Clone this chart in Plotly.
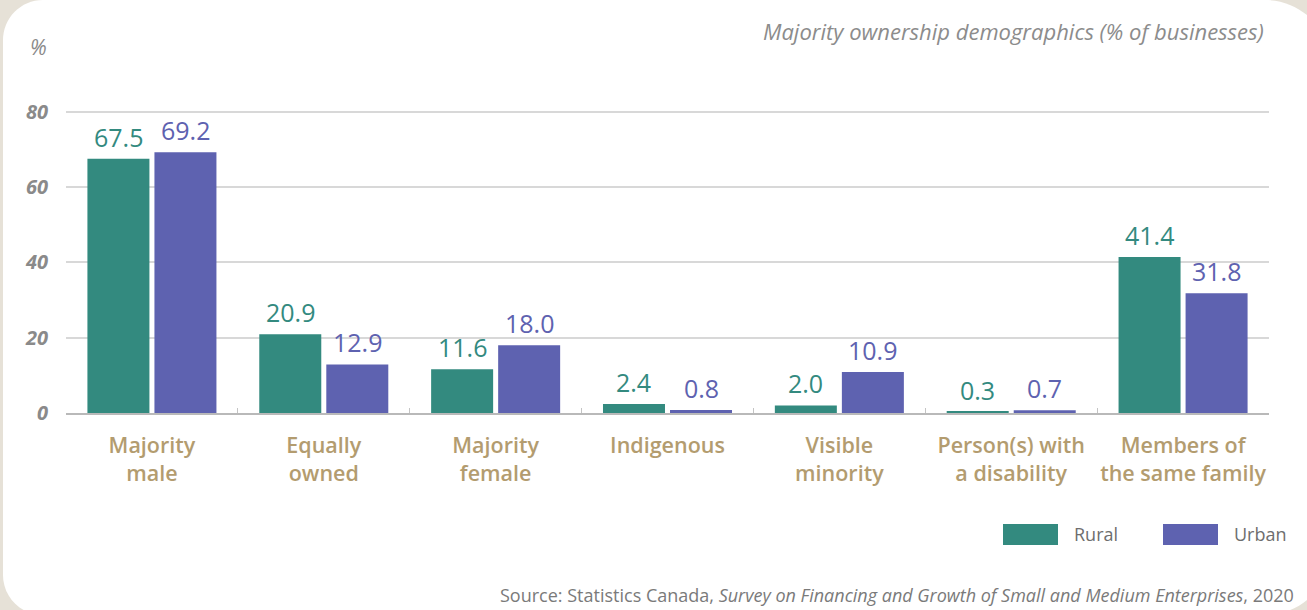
import plotly.graph_objects as go

# --- data -------------------------------------------------------------
categories = [
    "Majority<br>male",
    "Equally<br>owned",
    "Majority<br>female",
    "Indigenous",
    "Visible<br>minority",
    "Person(s) with<br>a disability",
    "Members of<br>the same family",
]
series_names = ["Rural", "Urban"]
rural = [67.5, 20.9, 11.6, 2.4, 2.0, 0.3, 41.4]
urban = [69.2, 12.9, 18.0, 0.8, 10.9, 0.7, 31.8]
y_ticks = [0, 20, 40, 60, 80]

# --- styling ----------------------------------------------------------
W, H = 1307, 610
M_L, M_R, M_T, M_B = 66, 38, 74, 197
RURAL_C = "#338a7f"
URBAN_C = "#5e62b0"
BEIGE = "#e6e1d7"
GREY = "#8a8a8a"
TAN = "#b39c6f"
FONT = "Open Sans"

PW = W - M_L - M_R
PH = H - M_T - M_B


def px(x):
    return (x - M_L) / PW


def py(y):
    return (H - M_B - y) / PH


fig = go.Figure()
for name, vals, col in [(series_names[0], rural, RURAL_C), (series_names[1], urban, URBAN_C)]:
    fig.add_trace(go.Bar(x=categories, y=vals, name=name, marker_color=col,
                         marker_line_width=0, showlegend=False))

# value labels above each bar
slot = PW / len(categories)
offset = slot * (1 - 0.22) / 4
annotations = []
for vals, col, sign in [(rural, RURAL_C, -1), (urban, URBAN_C, 1)]:
    for c, v in zip(categories, vals):
        annotations.append(dict(x=c, y=v, xref="x", yref="y", text=f"{v:.1f}",
                                showarrow=False, yanchor="bottom", xshift=sign * offset,
                                yshift=3, font=dict(family=FONT, size=25, color=col)))

# headline, unit, source
annotations += [
    dict(x=px(1266), y=py(31), xref="paper", yref="paper", xanchor="right", yanchor="middle",
         text="<i>Majority ownership demographics (% of businesses)</i>", showarrow=False,
         font=dict(family=FONT, size=22, color="#8c8c8c")),
    dict(x=px(38), y=py(47), xref="paper", yref="paper", xanchor="center", yanchor="middle",
         text="<i>%</i>", showarrow=False, font=dict(family=FONT, size=21, color=GREY)),
    dict(x=px(1296), y=py(595), xref="paper", yref="paper", xanchor="right", yanchor="middle",
         text="Source: Statistics Canada, <i>Survey on Financing and Growth of Small and Medium Enterprises</i>, 2020",
         showarrow=False, font=dict(family=FONT, size=18, color="#7a7a7a")),
]

# legend swatches
shapes = []
for name, col, x0 in [(series_names[0], RURAL_C, 1003), (series_names[1], URBAN_C, 1163)]:
    shapes.append(dict(type="rect", xref="paper", yref="paper", x0=px(x0), x1=px(x0 + 55),
                       y0=py(545), y1=py(524), fillcolor=col, line_width=0, layer="above"))
    annotations.append(dict(x=px(x0 + 69), y=py(534), xref="paper", yref="paper",
                            xanchor="left", yanchor="middle", text=name, showarrow=False,
                            font=dict(family=FONT, size=18, color="#6e6e6e")))

# white rounded card behind the chart
k = 0.5523
L, R, T, B = 3, 1331, 0, 615
rl, rr = 40, 66
pts = [
    ("M", [(L + rl, T)]),
    ("L", [(R - rr, T)]),
    ("C", [(R - rr + rr * k, T), (R, T + rr - rr * k), (R, T + rr)]),
    ("L", [(R, B - rr)]),
    ("C", [(R, B - rr + rr * k), (R - rr + rr * k, B), (R - rr, B)]),
    ("L", [(L + rl, B)]),
    ("C", [(L + rl - rl * k, B), (L, B - rl + rl * k), (L, B - rl)]),
    ("L", [(L, T + rl)]),
    ("C", [(L, T + rl - rl * k), (L + rl - rl * k, T), (L + rl, T)]),
]
path = " ".join(cmd + " " + " ".join(f"{px(a):.5f},{py(b):.5f}" for a, b in p) for cmd, p in pts) + " Z"
shapes.insert(0, dict(type="path", xref="paper", yref="paper", path=path,
                      fillcolor="white", line_width=0, layer="below"))

fig.update_layout(
    width=W, height=H,
    margin=dict(l=M_L, r=M_R, t=M_T, b=M_B),
    paper_bgcolor=BEIGE, plot_bgcolor="rgba(0,0,0,0)",
    barmode="group", bargap=0.22, bargroupgap=0.075,
    annotations=annotations, shapes=shapes,
    font=dict(family=FONT),
    xaxis=dict(type="category", tickson="boundaries", ticks="inside", ticklen=5,
               tickcolor="#c4c4c4", showline=True, linecolor="#b9b9b9", linewidth=2,
               showgrid=False, ticklabelstandoff=12, tickangle=0, automargin=False,
               tickfont=dict(family=FONT, size=21.5, color=TAN, weight=600)),
    yaxis=dict(range=[0, 90], tickvals=y_ticks, showgrid=True, gridcolor="#d8d8d8",
               gridwidth=1.5, zeroline=False, ticks="", ticklabelstandoff=17,
               automargin=False,
               tickfont=dict(family=FONT, size=20, color=GREY, style="italic", weight=700)),
)

fig.write_html("out.html")
